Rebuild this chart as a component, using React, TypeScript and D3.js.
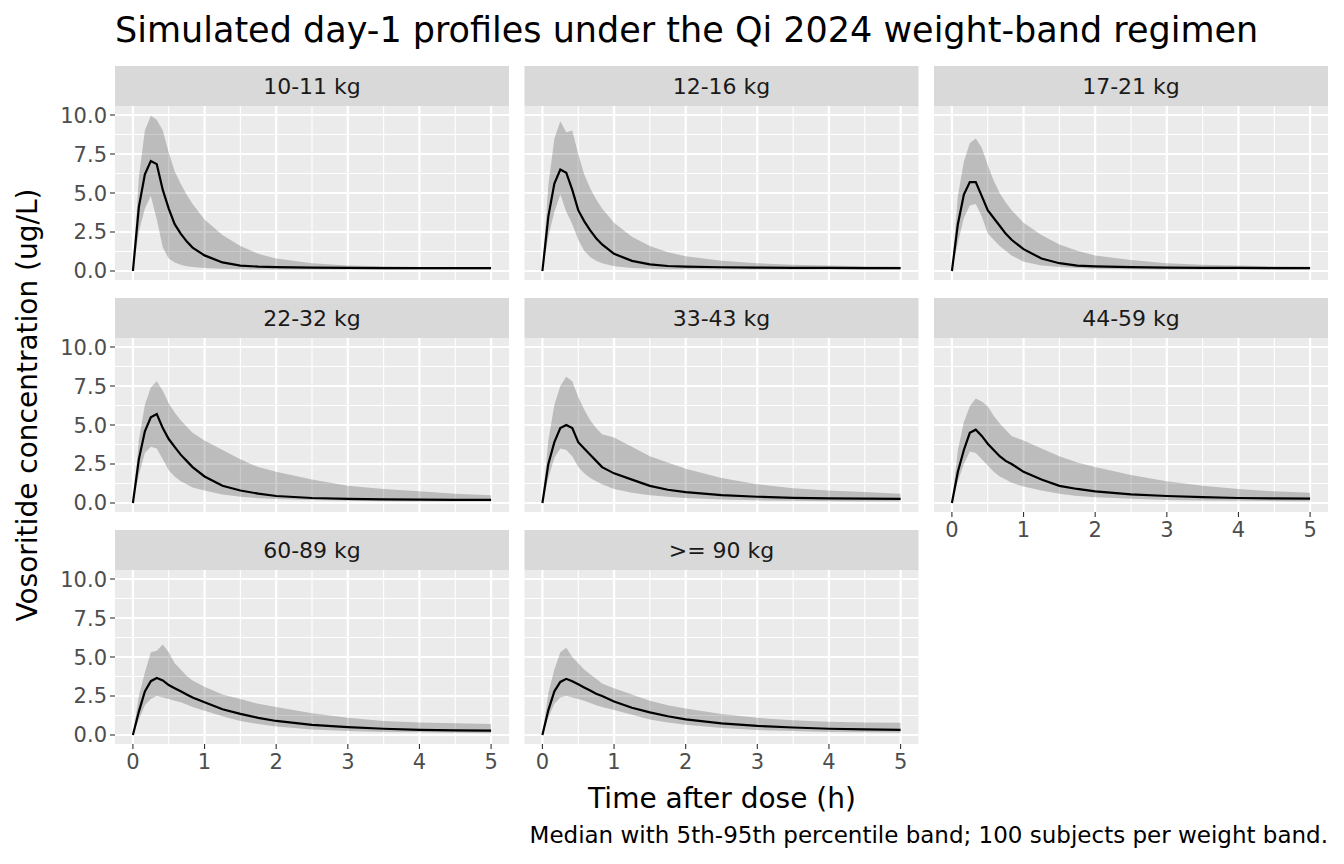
import React from "react";
import * as d3 from "d3";

const bands = ["10-11 kg", "12-16 kg", "17-21 kg", "22-32 kg", "33-43 kg", "44-59 kg", "60-89 kg", ">= 90 kg"];
const times = [0, 0.083, 0.167, 0.25, 0.333, 0.417, 0.5, 0.583, 0.667, 0.75, 0.833, 1, 1.25, 1.5, 1.75, 2, 2.5, 3, 3.5, 4, 4.5, 5];

const medians = [
  [0, 4.1, 6.2, 7.05, 6.85, 5.2, 4.0, 3.0, 2.4, 1.9, 1.5, 1.0, 0.55, 0.35, 0.28, 0.25, 0.22, 0.2, 0.19, 0.18, 0.18, 0.18],
  [0, 3.5, 5.6, 6.5, 6.3, 5.2, 3.9, 3.2, 2.6, 2.1, 1.7, 1.1, 0.65, 0.42, 0.32, 0.28, 0.24, 0.22, 0.2, 0.2, 0.19, 0.19],
  [0, 3.0, 4.9, 5.7, 5.7, 4.8, 3.9, 3.4, 2.9, 2.4, 2.0, 1.4, 0.8, 0.5, 0.35, 0.3, 0.25, 0.22, 0.2, 0.2, 0.19, 0.19],
  [0, 2.8, 4.6, 5.5, 5.7, 4.8, 4.1, 3.6, 3.1, 2.7, 2.3, 1.7, 1.1, 0.8, 0.6, 0.45, 0.32, 0.26, 0.23, 0.21, 0.2, 0.2],
  [0, 2.5, 3.9, 4.8, 5.0, 4.8, 3.9, 3.5, 3.1, 2.7, 2.3, 1.9, 1.5, 1.1, 0.85, 0.7, 0.5, 0.4, 0.33, 0.3, 0.28, 0.27],
  [0, 2.0, 3.4, 4.5, 4.7, 4.3, 3.8, 3.4, 3.0, 2.7, 2.5, 2.0, 1.5, 1.1, 0.9, 0.75, 0.55, 0.45, 0.38, 0.32, 0.3, 0.28],
  [0, 1.5, 2.8, 3.45, 3.65, 3.5, 3.2, 3.0, 2.8, 2.6, 2.4, 2.1, 1.65, 1.35, 1.1, 0.9, 0.65, 0.5, 0.4, 0.33, 0.3, 0.28],
  [0, 1.6, 2.8, 3.4, 3.6, 3.45, 3.25, 3.05, 2.85, 2.65, 2.5, 2.15, 1.75, 1.45, 1.2, 1.0, 0.75, 0.58, 0.48, 0.4, 0.36, 0.33],
];
const uppers = [
  [0, 6.0, 9.0, 9.95, 9.7, 9.0, 7.6, 6.4, 5.6, 4.9, 4.3, 3.3, 2.3, 1.6, 1.1, 0.8, 0.5, 0.35, 0.3, 0.25, 0.22, 0.2],
  [0, 5.5, 8.5, 9.6, 8.9, 9.0, 7.5, 6.2, 5.3, 4.6, 4.0, 3.1, 2.2, 1.6, 1.2, 0.95, 0.65, 0.5, 0.4, 0.35, 0.3, 0.28],
  [0, 4.8, 7.0, 8.2, 8.5, 7.9, 6.8, 5.8, 5.0, 4.4, 3.9, 3.1, 2.3, 1.7, 1.3, 1.0, 0.7, 0.5, 0.4, 0.35, 0.3, 0.28],
  [0, 4.0, 6.3, 7.4, 7.8, 7.2, 6.4, 5.8, 5.3, 4.9, 4.5, 4.0, 3.4, 2.8, 2.3, 2.0, 1.5, 1.1, 0.9, 0.75, 0.6, 0.5],
  [0, 4.0, 6.3, 7.5, 8.1, 7.8, 6.8, 6.0, 5.3, 4.8, 4.4, 4.2, 3.6, 3.0, 2.6, 2.2, 1.6, 1.2, 0.95, 0.8, 0.7, 0.6],
  [0, 3.4, 5.2, 6.2, 6.7, 6.5, 6.2, 5.6, 5.1, 4.7, 4.3, 4.0, 3.5, 3.0, 2.6, 2.3, 1.8, 1.4, 1.1, 0.9, 0.75, 0.65],
  [0, 2.5, 4.0, 5.3, 5.4, 5.8, 5.3, 4.6, 4.2, 3.8, 3.5, 3.1, 2.6, 2.3, 2.0, 1.8, 1.4, 1.1, 0.9, 0.8, 0.75, 0.7],
  [0, 2.7, 4.2, 5.3, 5.6, 5.0, 4.6, 4.2, 3.9, 3.6, 3.3, 3.0, 2.6, 2.2, 1.9, 1.7, 1.35, 1.1, 0.95, 0.85, 0.8, 0.78],
];
const lowers = [
  [0, 2.5, 4.0, 4.8, 3.3, 1.5, 0.8, 0.55, 0.4, 0.3, 0.25, 0.2, 0.15, 0.12, 0.1, 0.1, 0.1, 0.1, 0.1, 0.1, 0.1, 0.1],
  [0, 2.2, 3.8, 4.9, 3.8, 3.0, 2.0, 1.3, 0.9, 0.65, 0.5, 0.3, 0.2, 0.15, 0.12, 0.12, 0.1, 0.1, 0.1, 0.1, 0.1, 0.1],
  [0, 1.8, 3.4, 4.2, 4.3, 3.5, 2.4, 2.0, 1.6, 1.3, 1.0, 0.6, 0.35, 0.25, 0.2, 0.15, 0.12, 0.1, 0.1, 0.1, 0.1, 0.1],
  [0, 1.8, 3.2, 3.6, 3.5, 2.8, 2.1, 1.7, 1.4, 1.2, 1.0, 0.8, 0.55, 0.4, 0.3, 0.25, 0.2, 0.15, 0.12, 0.1, 0.1, 0.1],
  [0, 1.6, 2.9, 3.5, 3.4, 3.0, 2.3, 1.9, 1.6, 1.4, 1.2, 0.9, 0.65, 0.5, 0.4, 0.32, 0.22, 0.17, 0.14, 0.12, 0.1, 0.1],
  [0, 1.4, 2.5, 3.3, 3.2, 2.8, 2.4, 2.0, 1.7, 1.5, 1.3, 1.05, 0.8, 0.6, 0.45, 0.37, 0.27, 0.2, 0.16, 0.14, 0.12, 0.1],
  [0, 1.0, 1.9, 2.3, 2.5, 2.4, 2.3, 2.2, 2.1, 1.95, 1.8, 1.55, 1.2, 0.9, 0.7, 0.55, 0.35, 0.25, 0.2, 0.17, 0.15, 0.12],
  [0, 1.1, 2.0, 2.4, 2.5, 2.4, 2.3, 2.2, 2.05, 1.9, 1.8, 1.6, 1.3, 1.0, 0.8, 0.65, 0.45, 0.32, 0.25, 0.2, 0.17, 0.15],
];
const yTicks = [0, 2.5, 5, 7.5, 10];
const xTicks = [0, 1, 2, 3, 4, 5];

const W = 1344, H = 864;
const colX = [115, 524.5, 934];
const panelW = 394;
const rowTop = [66, 298, 530];
const stripH = 40;
const plotH = 174;
const font = "DejaVu Sans, sans-serif";

const x = d3.scaleLinear().domain([-0.25, 5.25]).range([0, panelW]);
const y = d3.scaleLinear().domain([-0.577, 10.577]).range([plotH, 0]);

function Panel({ i }: { i: number }) {
  const c = i % 3, r = Math.floor(i / 3);
  const px = colX[c], py = rowTop[r] + stripH;
  const area = d3.area<number>().x((_, k) => x(times[k])).y0((_, k) => y(lowers[i][k])).y1((_, k) => y(uppers[i][k]));
  const line = d3.line<number>().x((_, k) => x(times[k])).y((d) => y(d));
  const showX = r === 2 || i === 5;
  const showY = c === 0;
  const minorX = d3.range(0.5, 5, 1);
  const minorY = d3.range(1.25, 10, 2.5);
  return (
    <g>
      <rect x={px} y={rowTop[r]} width={panelW} height={stripH} fill="#D9D9D9" />
      <text x={px + panelW / 2} y={rowTop[r] + stripH / 2 + 7.5} textAnchor="middle" fontSize={22} fill="#1A1A1A" fontFamily={font}>{bands[i]}</text>
      <g transform={`translate(${px},${py})`}>
        <rect width={panelW} height={plotH} fill="#EBEBEB" />
        {minorX.map((t) => <line key={"mx" + t} x1={x(t)} x2={x(t)} y1={0} y2={plotH} stroke="#fff" strokeWidth={1.1} />)}
        {minorY.map((t) => <line key={"my" + t} y1={y(t)} y2={y(t)} x1={0} x2={panelW} stroke="#fff" strokeWidth={1.1} />)}
        {xTicks.map((t) => <line key={"gx" + t} x1={x(t)} x2={x(t)} y1={0} y2={plotH} stroke="#fff" strokeWidth={2.2} />)}
        {yTicks.map((t) => <line key={"gy" + t} y1={y(t)} y2={y(t)} x1={0} x2={panelW} stroke="#fff" strokeWidth={2.2} />)}
        <path d={area(medians[i]) || ""} fill="#000" fillOpacity={0.2} />
        <path d={line(medians[i]) || ""} fill="none" stroke="#000" strokeWidth={2.2} />
        {showX && xTicks.map((t) => (
          <g key={"tx" + t}>
            <line x1={x(t)} x2={x(t)} y1={plotH} y2={plotH + 5} stroke="#333" strokeWidth={1.1} />
            <text x={x(t)} y={plotH + 25} textAnchor="middle" fontSize={21} fill="#4D4D4D" fontFamily={font}>{t}</text>
          </g>
        ))}
        {showY && yTicks.map((t) => (
          <g key={"ty" + t}>
            <line x1={-5} x2={0} y1={y(t)} y2={y(t)} stroke="#333" strokeWidth={1.1} />
            <text x={-8} y={y(t) + 7.5} textAnchor="end" fontSize={21} fill="#4D4D4D" fontFamily={font}>{t.toFixed(1)}</text>
          </g>
        ))}
      </g>
    </g>
  );
}

export default function App() {
  return (
    <svg width={W} height={H} style={{ display: "block", margin: -8 }}>
      <rect width={W} height={H} fill="#fff" />
      <text x={115} y={42} fontSize={35} fill="#000" fontFamily={font}>Simulated day-1 profiles under the Qi 2024 weight-band regimen</text>
      {bands.map((_, i) => <Panel key={i} i={i} />)}
      <text x={722} y={808} textAnchor="middle" fontSize={28} fill="#000" fontFamily={font}>Time after dose (h)</text>
      <text transform={`translate(37,405) rotate(-90)`} textAnchor="middle" fontSize={28} fill="#000" fontFamily={font}>Vosoritide concentration (ug/L)</text>
      <text x={1328} y={843} textAnchor="end" fontSize={23} fill="#000" fontFamily={font}>Median with 5th-95th percentile band; 100 subjects per weight band.</text>
    </svg>
  );
}
